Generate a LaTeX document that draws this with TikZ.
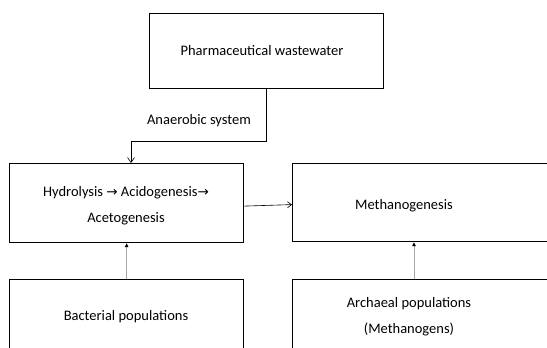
\documentclass[tikz,border=0pt]{standalone}
\usepackage{fontspec}
\setmainfont{Carlito}
\newfontfamily\arrowfont{DejaVu Sans}
\usetikzlibrary{arrows.meta}

\tikzset{
  box/.style={draw, line width=1.2pt, rectangle, anchor=north west},
  lbl/.style={font=\fontsize{14.5}{26}\selectfont, align=center},
  flow/.style={line width=1pt, -{Straight Barb[length=5pt,width=7pt,line width=0.6pt]}},
  thinflow/.style={line width=0.6pt, -{Straight Barb[length=4pt,width=6pt]}},
  feed/.style={draw=gray!70, line width=0.9pt, -{Triangle[length=4pt,width=3.5pt,color=black]}}
}

\begin{document}
\begin{tikzpicture}[x=1pt, y=1pt]

    \useasboundingbox (0,0) rectangle (547,-348);
    \clip (0,0) rectangle (547,-348);

    % Top box
    \node[box, minimum width=234, minimum height=75] (wwbox) at (149,-13) {};
    \node[lbl] (ww) at (262,-51) {Pharmaceutical wastewater};

    % Middle row
    \node[box, minimum width=234, minimum height=79] (hydbox) at (9,-163) {};
    \node[lbl] (hyd) at (126,-206) {Hydrolysis {\arrowfont\fontsize{13.5}{14}\selectfont →} Acidogenesis{\arrowfont\fontsize{13.5}{14}\selectfont →}\\Acetogenesis};
    \node[box, minimum width=308, minimum height=78] (methbox) at (292,-163) {};
    \node[lbl] (meth) at (404,-206) {Methanogenesis};

    % Bottom row
    \node[box, minimum width=234, minimum height=95] (bactbox) at (9,-279) {};
    \node[lbl] (bact) at (126,-317) {Bacterial populations};
    \node[box, minimum width=308, minimum height=95] (archbox) at (292,-279) {};
    \node[lbl] (arch) at (409,-317) {Archaeal populations\\(Methanogens)};

    % Anaerobic connector
    \coordinate (kink) at (131,-141);
    \draw[flow] (wwbox.south) |- (kink) -- (hydbox.north -| kink);
    \node[lbl] (anaer) at (199,-121) {Anaerobic system};

    % Hydrolysis to methanogenesis
    \draw[thinflow] ([yshift=-3pt]hydbox.east) -- ([yshift=-2pt]methbox.west);

    % Populations
    \coordinate (rx) at (414,0);
    \draw[feed] (bactbox.north) -- (hydbox.south);
    \draw[feed] (archbox.north -| rx) -- (methbox.south -| rx);

\end{tikzpicture}
\end{document}
